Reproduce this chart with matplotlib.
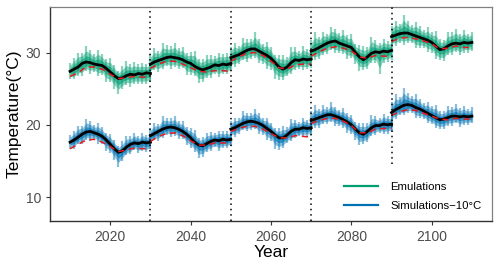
import matplotlib
matplotlib.use("Agg")
import matplotlib.pyplot as plt
import numpy as np
from matplotlib.lines import Line2D

plt.rcParams['font.family'] = ['Liberation Sans', 'DejaVu Sans']

seg_starts = [2010, 2030, 2050, 2070, 2090]
breaks = [2030, 2050, 2070, 2090]

# ensemble mean per segment (yearly, 21 values per 20-year segment)
emu_mean = [
    27.4, 27.7, 28.0, 28.5, 28.7, 28.6, 28.4, 28.3, 28.2, 27.8, 27.3, 26.8, 26.4, 26.5, 26.8, 27.0, 26.9, 27.1, 27.0, 27.2, 27.1,
    28.4, 28.7, 28.9, 29.1, 29.3, 29.4, 29.3, 29.2, 29.0, 28.7, 28.5, 28.1, 27.8, 27.6, 27.8, 28.0, 28.3, 28.2, 28.4, 28.3, 28.5,
    29.3, 29.5, 29.7, 30.0, 30.3, 30.5, 30.5, 30.2, 29.9, 29.6, 29.2, 28.6, 28.0, 27.7, 28.0, 28.6, 29.0, 28.9, 29.1, 29.0, 29.1,
    30.2, 30.4, 30.7, 31.0, 31.3, 31.5, 31.6, 31.3, 31.1, 30.9, 30.7, 30.0, 29.4, 29.0, 29.4, 29.9, 30.1, 30.0, 30.2, 30.1, 30.3,
    32.2, 32.4, 32.6, 32.7, 32.7, 32.5, 32.3, 32.1, 31.9, 31.7, 31.4, 30.9, 30.4, 30.5, 30.9, 31.2, 31.3, 31.2, 31.4, 31.3, 31.4,
]
sim_mean = [
    17.6, 17.9, 18.3, 18.7, 19.0, 19.1, 18.9, 18.7, 18.4, 17.9, 17.3, 16.7, 16.2, 16.4, 16.9, 17.3, 17.5, 17.4, 17.6, 17.5, 17.6,
    18.5, 18.8, 19.1, 19.4, 19.6, 19.7, 19.6, 19.4, 19.1, 18.7, 18.2, 17.6, 17.2, 17.1, 17.4, 17.7, 17.9, 17.8, 18.0, 17.9, 18.0,
    19.4, 19.6, 19.9, 20.2, 20.4, 20.5, 20.4, 20.2, 19.9, 19.5, 19.1, 18.6, 18.2, 18.2, 18.6, 19.1, 19.4, 19.4, 19.6, 19.5, 19.6,
    20.6, 20.8, 21.0, 21.2, 21.4, 21.4, 21.2, 21.0, 20.7, 20.4, 20.0, 19.4, 18.9, 18.7, 19.1, 19.6, 19.9, 19.9, 20.1, 20.0, 20.1,
    21.7, 22.1, 22.4, 22.7, 22.8, 22.7, 22.4, 22.2, 21.9, 21.6, 21.3, 21.0, 20.7, 20.8, 21.0, 21.2, 21.2, 21.1, 21.2, 21.1, 21.2,
]

# red dashed reference curve (every 2 years, 11 values per segment)
emu_ref = [
    26.7, 27.2, 28.0, 28.0, 27.7, 27.0, 26.4, 26.5, 26.7, 26.6, 26.6,
    27.8, 28.4, 28.8, 28.8, 28.4, 27.9, 27.4, 27.3, 27.5, 27.5, 27.4,
    28.8, 29.4, 29.9, 30.0, 29.6, 28.8, 27.9, 27.7, 28.3, 28.4, 28.4,
    29.5, 30.1, 30.6, 30.8, 30.6, 30.2, 29.4, 29.2, 29.6, 29.5, 29.5,
    31.5, 32.0, 32.1, 31.9, 31.6, 31.2, 30.5, 30.6, 30.9, 30.7, 30.7,
]
sim_ref = [
    16.7, 17.3, 17.9, 18.0, 17.6, 17.0, 16.3, 16.5, 16.8, 16.7, 16.7,
    17.7, 18.4, 18.8, 18.9, 18.5, 17.8, 17.2, 17.2, 17.5, 17.5, 17.5,
    19.1, 19.5, 19.8, 19.8, 19.4, 18.8, 18.2, 18.2, 18.5, 18.4, 18.3,
    20.2, 20.6, 20.9, 20.9, 20.5, 19.9, 18.9, 18.9, 19.4, 19.5, 19.5,
    21.3, 21.8, 22.1, 22.0, 21.6, 21.2, 20.8, 20.7, 20.9, 20.8, 20.8,
]

# ensemble spread above / below the mean (yearly)
emu_up = [
    1.2, 1.6, 2.0, 1.5, 2.2, 1.8, 1.4, 2.1, 1.6, 1.3, 1.9, 1.5, 1.1, 1.7, 2.0, 1.4, 1.8, 1.3, 1.6, 1.2, 1.5,
    1.4, 1.9, 1.3, 2.2, 1.7, 1.5, 2.0, 1.4, 1.8, 1.2, 1.6, 2.1, 1.3, 1.5, 1.9, 1.6, 1.2, 1.8, 1.4, 1.7, 1.3,
    1.5, 1.8, 1.2, 2.0, 1.6, 1.4, 2.3, 1.7, 1.3, 1.9, 1.5, 1.1, 1.6, 2.0, 1.4, 2.2, 1.7, 1.3, 1.8, 1.5, 1.4,
    1.6, 2.4, 1.5, 1.9, 1.3, 2.1, 1.7, 1.4, 2.0, 1.5, 1.8, 1.2, 1.6, 1.9, 1.4, 2.3, 1.6, 1.3, 1.7, 1.5, 1.4,
    1.5, 2.0, 1.4, 2.5, 1.7, 1.3, 1.9, 1.6, 1.2, 1.8, 1.4, 2.1, 1.5, 1.3, 1.9, 1.6, 2.0, 1.4, 1.7, 1.3, 1.5,
]
emu_dn = [
    1.0, 1.4, 1.2, 1.7, 1.3, 1.5, 1.1, 1.6, 1.3, 1.9, 1.4, 1.8, 2.1, 1.5, 1.3, 1.7, 1.2, 1.5, 1.4, 1.6, 1.2,
    1.3, 1.1, 1.6, 1.4, 1.2, 1.7, 1.3, 1.5, 1.2, 1.8, 1.6, 1.4, 2.0, 1.7, 1.3, 1.5, 1.2, 1.6, 1.4, 1.3, 1.1,
    1.2, 1.5, 1.3, 1.1, 1.6, 1.4, 1.2, 1.7, 1.5, 1.9, 1.6, 2.2, 1.8, 1.5, 1.3, 1.6, 1.4, 1.2, 1.5, 1.3, 1.2,
    1.1, 1.4, 1.6, 1.3, 1.5, 1.2, 1.7, 1.4, 1.3, 1.8, 1.5, 1.6, 1.9, 1.4, 1.7, 1.3, 1.5, 3.0, 1.6, 1.4, 1.3,
    1.2, 1.5, 1.3, 1.6, 1.4, 1.2, 1.7, 1.5, 1.3, 1.6, 1.4, 1.8, 1.5, 1.7, 1.3, 1.5, 1.2, 1.6, 1.4, 1.3, 1.2,
]
sim_up = [
    1.0, 1.3, 1.6, 1.2, 1.8, 1.4, 1.1, 1.5, 1.3, 1.0, 1.4, 1.2, 0.9, 1.3, 1.6, 1.1, 1.4, 1.0, 1.3, 1.1, 1.2,
    1.1, 1.5, 1.0, 1.8, 1.4, 1.2, 1.6, 1.1, 1.4, 1.0, 1.3, 1.7, 1.0, 1.2, 1.5, 1.3, 1.0, 1.4, 1.1, 1.3, 1.0,
    1.2, 1.4, 1.0, 1.7, 1.3, 1.1, 1.8, 1.4, 1.0, 1.5, 1.2, 0.9, 1.3, 1.6, 1.1, 1.7, 1.3, 1.0, 1.4, 1.2, 1.1,
    1.3, 1.9, 1.2, 1.5, 1.0, 1.7, 1.3, 1.1, 1.6, 1.2, 1.4, 1.0, 1.3, 1.5, 1.1, 1.8, 1.3, 1.0, 1.4, 1.2, 1.1,
    1.4, 2.1, 1.5, 2.4, 1.6, 1.3, 1.8, 1.4, 1.1, 1.6, 1.3, 1.8, 1.2, 1.1, 1.6, 1.3, 1.7, 1.2, 1.4, 1.1, 1.3,
]
sim_dn = [
    0.9, 1.2, 1.0, 1.4, 1.1, 1.3, 0.9, 1.3, 1.1, 1.5, 1.2, 1.6, 2.0, 1.4, 1.1, 1.4, 1.0, 1.3, 1.2, 1.3, 1.0,
    1.1, 0.9, 1.3, 1.2, 1.0, 1.4, 1.1, 1.3, 1.0, 1.5, 1.4, 1.3, 1.8, 1.5, 1.1, 1.3, 1.0, 1.4, 1.2, 1.1, 0.9,
    1.0, 1.3, 1.1, 0.9, 1.3, 1.2, 1.0, 1.4, 1.3, 1.6, 1.4, 1.9, 1.7, 1.4, 1.1, 1.4, 1.2, 1.0, 1.3, 1.1, 1.0,
    0.9, 1.2, 1.4, 1.1, 1.3, 1.0, 1.4, 1.2, 1.1, 1.5, 1.3, 1.5, 1.7, 1.3, 1.5, 1.1, 1.3, 1.0, 1.4, 1.2, 1.1,
    1.0, 1.3, 1.1, 1.4, 1.2, 1.0, 1.5, 1.3, 1.1, 1.4, 1.2, 1.5, 1.3, 1.4, 1.1, 1.3, 1.0, 1.4, 1.2, 1.1, 1.0,
]

EMU = '#009E73'
SIM = '#0072B2'

fig = plt.figure(figsize=(4.99, 2.70), dpi=100)
ax = fig.add_axes([0.1002, 0.1815, 0.8858, 0.7926])


def draw(mean, ref, up, dn, color):
    mean = np.array(mean)
    up = np.array(up)
    dn = np.array(dn)
    for k, s in enumerate(seg_starts):
        yrs = np.arange(s, s + 21)
        m = mean[k * 21:(k + 1) * 21]
        u = up[k * 21:(k + 1) * 21]
        d = dn[k * 21:(k + 1) * 21]
        # ensemble members: streaky outer spread, denser core
        ax.vlines(yrs, m - d, m + u, color=color, alpha=0.45, lw=1.6)
        ax.fill_between(yrs, m - 0.7 * d, m + 0.7 * u, color=color,
                        alpha=0.45, lw=0)
        ax.fill_between(yrs, m - 0.4 * d, m + 0.4 * u, color=color,
                        alpha=0.6, lw=0)
        ax.plot(yrs, m, color='black', lw=2.0, zorder=3)
        ryrs = np.arange(s, s + 21, 2)
        ax.plot(ryrs, ref[k * 11:(k + 1) * 11], color='#E41A1C', lw=1.1,
                ls=(0, (4, 3)), zorder=4)


draw(emu_mean, emu_ref, emu_up, emu_dn, EMU)
draw(sim_mean, sim_ref, sim_up, sim_dn, SIM)

for b in breaks[:3]:
    ax.axvline(b, color='black', ls=(0, (1, 2.5)), lw=1.1, zorder=5)
ax.vlines(breaks[3], 14.6, 36.3, color='black', linestyles=(0, (1, 2.5)),
          lw=1.1, zorder=5)

ax.set_xlim(2005, 2115)
ax.set_ylim(6.7, 36.3)
ax.set_xticks([2020, 2040, 2060, 2080, 2100])
ax.set_yticks([10, 20, 30])
ax.tick_params(labelsize=10, labelcolor='#4D4D4D', color='#333333',
               length=3, width=0.8)
ax.set_xlabel('Year', fontsize=12.5, labelpad=1)
ax.set_ylabel('Temperature(°C)', fontsize=12.5, labelpad=3)
for sp in ['left', 'bottom']:
    ax.spines[sp].set_color('#333333')
    ax.spines[sp].set_linewidth(1.0)
for sp in ['top', 'right']:
    ax.spines[sp].set_color('#808080')
    ax.spines[sp].set_linewidth(0.9)

handles = [Line2D([], [], color=EMU, lw=1.6), Line2D([], [], color=SIM, lw=1.6)]
ax.legend(handles, ['Emulations', 'Simulations\u221210°C'], loc='lower right',
          frameon=False, fontsize=8.2, handlelength=3.0, handletextpad=1.1,
          labelspacing=0.8, borderaxespad=0.5)

fig.savefig('out.png', dpi=100)
